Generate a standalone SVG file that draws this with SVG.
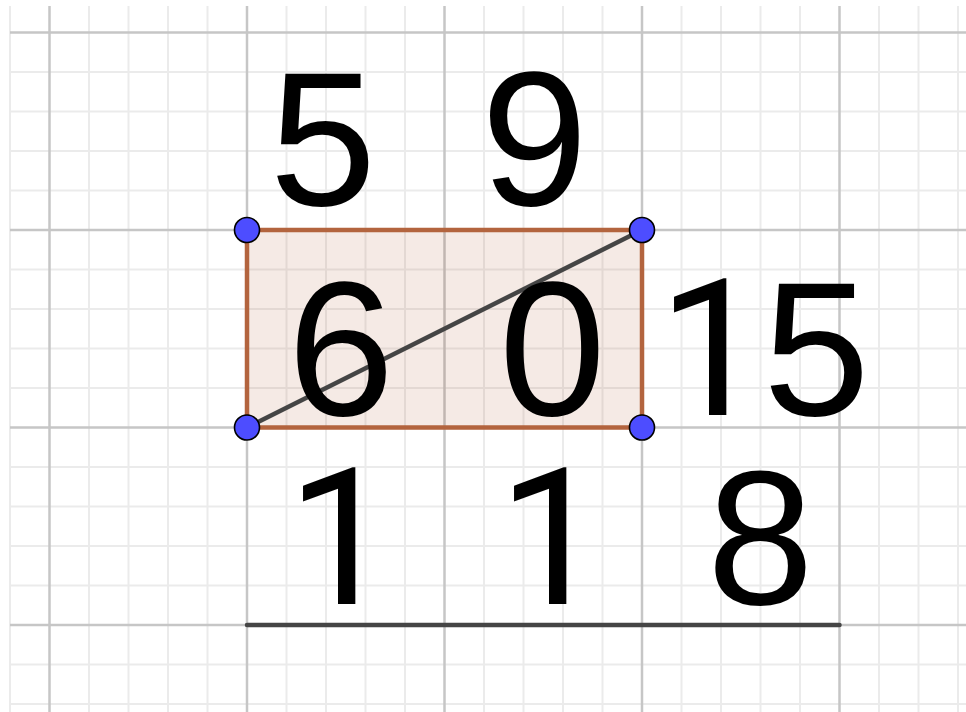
<svg xmlns="http://www.w3.org/2000/svg" width="966" height="712" viewBox="0 0 966 712">
<style>
.minor{stroke:#ebebeb;stroke-width:2;fill:none}
.major{stroke:#c6c6c6;stroke-width:2.5;fill:none}
.num{font-family:"Liberation Sans",Arial,sans-serif;font-size:192px;fill:#000;text-anchor:middle}
.one{font-family:Roboto,"Liberation Sans",sans-serif;font-size:192px;fill:#000}
.pt{fill:#4d4dff;stroke:#000;stroke-width:1.6}
.seg{stroke:#454545;stroke-width:4.5;stroke-linecap:round}
</style>
<rect width="966" height="712" fill="#fff"/>
<g id="grid">
<path class="minor" d="M10 6V712M89 6V712M128.5 6V712M168 6V712M207.5 6V712M286.5 6V712M326 6V712M365.5 6V712M405 6V712M484 6V712M523.5 6V712M563 6V712M602.5 6V712M681.5 6V712M721 6V712M760.5 6V712M800 6V712M879 6V712M918.5 6V712M958 6V712M10 72H966M10 111.5H966M10 151H966M10 190.5H966M10 269.5H966M10 309H966M10 348.5H966M10 388H966M10 467H966M10 506.5H966M10 546H966M10 585.5H966M10 664.5H966M10 704H966"/>
<path class="major" d="M49.5 6V712M247 6V712M444.5 6V712M642 6V712M839.5 6V712M10 32.5H966M10 230H966M10 427.5H966M10 625H966"/>
</g>
<g id="rectangle">
<rect x="247" y="230" width="395" height="197.5" fill="#993300" fill-opacity="0.1" stroke="#b3643e" stroke-width="4.5"/>
</g>
<g id="connectors">
<line class="seg" x1="247" y1="427.5" x2="642" y2="230"/>
<line class="seg" x1="247" y1="625" x2="839.5" y2="625"/>
</g>
<g id="labels">
<text class="num" x="323" y="205">5</text>
<text class="num" x="534.5" y="205">9</text>
<text class="num" x="341" y="415">6</text>
<text class="num" x="552.5" y="415">0</text>
<text class="one" x="658" y="415">1</text>
<text class="num" x="816.5" y="415">5</text>
<text class="one" x="287" y="604">1</text>
<text class="one" x="498" y="604">1</text>
<text class="num" x="760.5" y="604">8</text>
</g>
<g id="points">
<circle id="A" class="pt" cx="247" cy="230" r="12.5"/>
<circle id="B" class="pt" cx="642" cy="230" r="12.5"/>
<circle id="C" class="pt" cx="247" cy="427.5" r="12.5"/>
<circle id="D" class="pt" cx="642" cy="427.5" r="12.5"/>
</g>
</svg>
